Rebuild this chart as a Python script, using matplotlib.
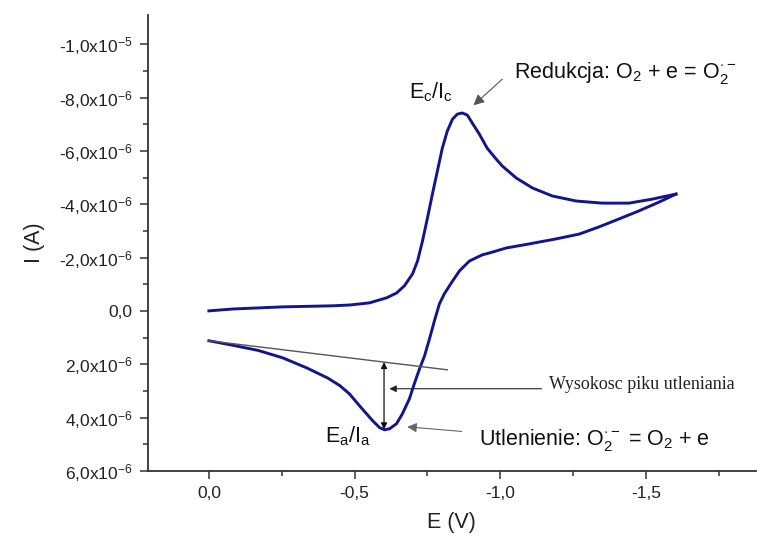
import matplotlib
matplotlib.use("Agg")
import matplotlib.pyplot as plt

plt.rcParams['font.family'] = ['Liberation Sans', 'DejaVu Sans']
plt.rcParams['mathtext.fontset'] = 'custom'
plt.rcParams['mathtext.rm'] = 'Liberation Sans'
plt.rcParams['mathtext.it'] = 'Liberation Sans'
plt.rcParams['mathtext.bf'] = 'Liberation Sans:bold'

# cathodic (forward) scan: E (V), I (uA)
e_fwd = [0.0, -0.082, -0.253, -0.425, -0.483, -0.551, -0.610, -0.644, -0.671, -0.699,
         -0.716, -0.733, -0.750, -0.767, -0.784, -0.801, -0.818, -0.836, -0.853,
         -0.870, -0.887, -0.904, -0.928, -0.955, -0.986, -1.007, -1.055, -1.110,
         -1.178, -1.260, -1.349, -1.442, -1.521, -1.603]
i_fwd = [0.0, -0.07, -0.15, -0.19, -0.22, -0.30, -0.49, -0.67, -0.94, -1.39,
         -1.87, -2.62, -3.48, -4.38, -5.24, -6.10, -6.74, -7.19, -7.38,
         -7.42, -7.34, -7.04, -6.63, -6.10, -5.69, -5.43, -4.98, -4.61,
         -4.31, -4.12, -4.04, -4.04, -4.19, -4.38]

# anodic (return) scan
e_rev = [-1.603, -1.545, -1.476, -1.408, -1.339, -1.271, -1.192, -1.099, -1.021,
         -0.962, -0.938, -0.894, -0.860, -0.832, -0.808, -0.791, -0.774, -0.757,
         -0.740, -0.723, -0.705, -0.688, -0.664, -0.644, -0.620, -0.603, -0.586,
         -0.562, -0.541, -0.517, -0.483, -0.449, -0.408, -0.336, -0.253, -0.168,
         -0.082, 0.0]
i_rev = [-4.38, -4.08, -3.75, -3.45, -3.15, -2.88, -2.70, -2.51, -2.36,
         -2.17, -2.10, -1.87, -1.50, -1.05, -0.64, -0.26, 0.37, 1.05,
         1.69, 2.17, 2.73, 3.30, 3.86, 4.23, 4.42, 4.46, 4.38,
         4.12, 3.86, 3.56, 3.12, 2.80, 2.52, 2.14, 1.76, 1.48,
         1.29, 1.12]

# baseline used for the anodic peak height
e_base = [0.0, -0.818]
i_base = [1.12, 2.21]

x_ticks = [0.0, -0.5, -1.0, -1.5]
x_labels = ['0,0', '-0,5', '-1,0', '-1,5']
y_ticks = [-10, -8, -6, -4, -2, 0, 2, 4, 6]
y_labels = ['-1,0x10$^{-5}$', '-8,0x10$^{-6}$', '-6,0x10$^{-6}$', '-4,0x10$^{-6}$',
            '-2,0x10$^{-6}$', '0,0', '2,0x10$^{-6}$', '4,0x10$^{-6}$', '6,0x10$^{-6}$']

to_a = 1e-6
fig = plt.figure(figsize=(7.57, 5.40), dpi=100)
ax = fig.add_axes([0.1955, 0.128, 0.803, 0.844])

blue = '#14148c'
ax.plot(e_fwd, [v * to_a for v in i_fwd], color=blue, lw=2.1, solid_joinstyle='round')
ax.plot(e_rev, [v * to_a for v in i_rev], color=blue, lw=2.1, solid_joinstyle='round')
ax.plot(e_base, [v * to_a for v in i_base], color='#555555', lw=1.0)

ax.set_xlim(0.209, -1.877)
ax.set_ylim(6.0e-6, -11.09e-6)

ax.set_xticks(x_ticks)
ax.set_xticklabels(x_labels)
ax.set_xticks([-0.25, -0.75, -1.25, -1.75], minor=True)
ax.set_yticks([v * to_a for v in y_ticks])
ax.set_yticklabels(y_labels)
ax.set_yticks([v * to_a for v in [-9, -7, -5, -3, -1, 1, 3, 5]], minor=True)

for s in ['top', 'right']:
    ax.spines[s].set_visible(False)
for s in ['left', 'bottom']:
    ax.spines[s].set_color('#333333')
    ax.spines[s].set_linewidth(1.3)
ax.tick_params(which='major', direction='out', length=6, width=1.1, colors='#333333',
               labelsize=12.5, labelcolor='#222222', pad=5)
ax.tick_params(which='minor', direction='out', length=3.5, width=1.1, colors='#333333')

ax.set_xlabel('E (V)', fontsize=15.5, color='#222222', labelpad=8)
ax.set_ylabel('I (A)', fontsize=15.5, color='#222222', labelpad=10)

# annotations
ax.text(-1.048, -8.91e-6, r'Redukcja: O$_2$ + e = O$_2^{\cdot -}$', fontsize=15.5,
        ha='left', va='center', color='#111111')
ax.annotate('', xy=(-0.901, -7.64e-6), xytext=(-1.014, -8.76e-6),
            arrowprops=dict(arrowstyle='-|>', color='#555555', lw=0.8, mutation_scale=16))
ax.text(-0.688, -7.98e-6, r'E$_c$/I$_c$', fontsize=15.5, ha='left', va='baseline',
        color='#111111')

ax.text(-0.397, 4.94e-6, r'E$_a$/I$_a$', fontsize=15.5, ha='left', va='baseline',
        color='#111111')
ax.text(-0.928, 5.02e-6, r'Utlenienie: O$_2^{\cdot -}$ = O$_2$ + e', fontsize=15.5,
        ha='left', va='baseline', color='#111111')
ax.annotate('', xy=(-0.671, 4.34e-6), xytext=(-0.877, 4.53e-6),
            arrowprops=dict(arrowstyle='-|>', color='#666666', lw=0.8, mutation_scale=14))

ax.text(-1.168, 2.77e-6, 'Wysokosc piku utleniania', fontsize=13,
        family='Liberation Serif', ha='left', va='center', color='#222222')
ax.annotate('', xy=(-0.610, 2.92e-6), xytext=(-1.151, 2.92e-6),
            arrowprops=dict(arrowstyle='-|>', color='#222222', lw=0.8, mutation_scale=10))
ax.annotate('', xy=(-0.601, 1.92e-6), xytext=(-0.601, 4.44e-6),
            arrowprops=dict(arrowstyle='<|-|>', color='#111111', lw=0.9,
                            mutation_scale=9, shrinkA=0, shrinkB=0))

fig.savefig('out.png', dpi=100)
